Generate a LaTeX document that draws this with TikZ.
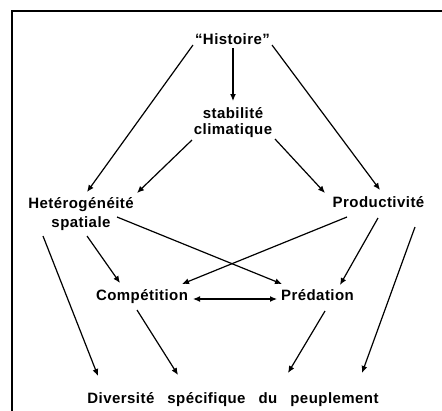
\documentclass[tikz,border=0pt]{standalone}
\usepackage{fontspec}
\setmainfont{Liberation Sans}[LetterSpace=3]
\usetikzlibrary{arrows.meta}

\tikzset{
  lbl/.style={inner sep=0pt, anchor=base, font=\bfseries\fontsize{15}{16}\selectfont},
  link/.style={line width=1.2pt, -{Latex[length=7pt,width=6pt]}},
  dlink/.style={line width=1.2pt, {Latex[length=7pt,width=6pt]}-{Latex[length=7pt,width=6pt]}},
  frame/.style={line width=2pt}
}

\begin{document}
\begin{tikzpicture}[x=1pt,y=-1pt]
\useasboundingbox (0,0) rectangle (442,410);

% open frame: top and left edges
\coordinate (fc) at (12,11);
\coordinate (fr) at (443,11);
\coordinate (fb) at (12,411);
\draw[frame] (fr) -- (fc) -- (fb);

% factors
\node[lbl] (hist) at (232.5,44) {“Histoire”};
\node[lbl] (stab) at (233,118)
  {\begin{tabular}[t]{@{}c@{}}stabilité\\climatique\end{tabular}};
\node[lbl] (het) at (81,208)
  {\begin{tabular}[t]{@{}c@{}}Hetérogénéité\\[3pt]spatiale\hspace{17pt}\end{tabular}};
\node[lbl] (prod) at (378.5,207) {Productivité};
\node[lbl] (comp) at (142,300) {Compétition};
\node[lbl] (pred) at (317.5,300) {Prédation};
\node[lbl] (div) at (233,403)
  {Diversité\hspace{13pt}spécifique\hspace{13pt}du\hspace{13pt}peuplement};

% influences
\draw[link] ([shift={(0.5,4)}]hist.base) -- ([shift={(0,-17)}]stab.base);
\draw[link] ([shift={(-39.5,1)}]hist.base) -- ([shift={(6,-16)}]het.base);
\draw[link] ([shift={(39.5,1)}]hist.base) -- ([shift={(1.5,-17)}]prod.base);

\draw[link] ([shift={(-41,22)}]stab.base) -- ([shift={(56,-15)}]het.base);
\draw[link] ([shift={(42,21)}]stab.base) -- ([shift={(-53.5,-14)}]prod.base);

\draw[link] ([shift={(36,9)}]het.base) -- ([shift={(-35.5,-16)}]pred.base);
\draw[link] ([shift={(-31.5,10)}]prod.base) -- ([shift={(40,-16)}]comp.base);

\draw[link] ([shift={(6,28)}]het.base) -- ([shift={(-22,-17)}]comp.base);
\draw[link] ([shift={(-38,28)}]het.base) -- ([shift={(-135,-27)}]div.base);

\draw[link] ([shift={(-0.5,11)}]prod.base) -- ([shift={(22.5,-15)}]pred.base);
\draw[link] ([shift={(36.5,20)}]prod.base) -- ([shift={(129,-30)}]div.base);

\draw[dlink] ([shift={(51,-1)}]comp.base) -- ([shift={(-40.5,-1)}]pred.base);

\draw[link] ([shift={(-5,10)}]comp.base) -- ([shift={(-55,-28)}]div.base);
\draw[link] ([shift={(7.5,11)}]pred.base) -- ([shift={(55,-30)}]div.base);
\end{tikzpicture}
\end{document}
